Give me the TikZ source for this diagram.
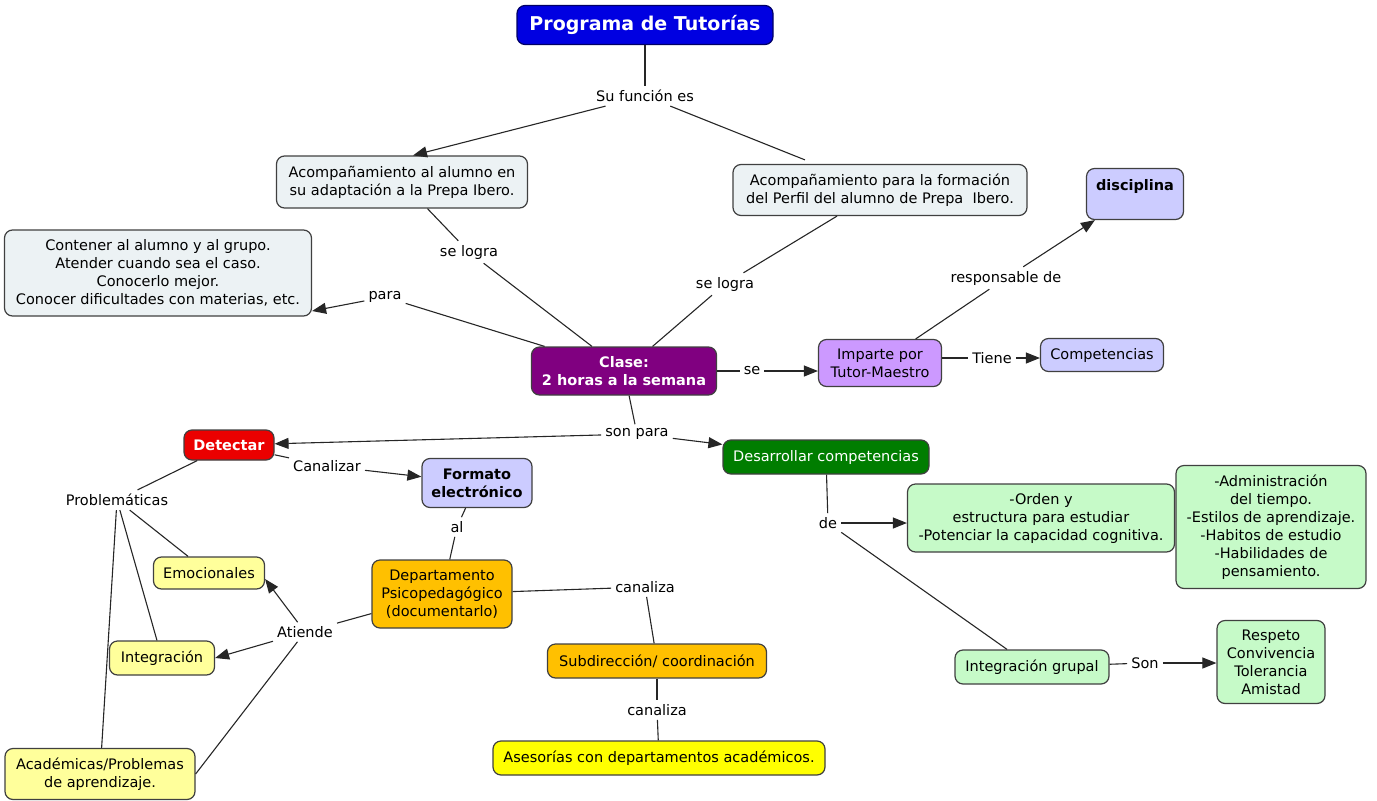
\documentclass[tikz,border=0pt]{standalone}
\usepackage{fontspec}
\setmainfont{DejaVu Sans}
\usetikzlibrary{arrows.meta}

\definecolor{titleblue}{RGB}{0,0,225}
\definecolor{boxgray}{RGB}{236,242,244}
\definecolor{clasepurple}{RGB}{128,0,128}
\definecolor{lightpurple}{RGB}{204,153,255}
\definecolor{lavender}{RGB}{204,204,255}
\definecolor{detred}{RGB}{235,0,0}
\definecolor{darkgreen}{RGB}{0,125,0}
\definecolor{mintgreen}{RGB}{198,250,200}
\definecolor{deporange}{RGB}{255,192,0}
\definecolor{brightyellow}{RGB}{255,255,0}
\definecolor{paleyellow}{RGB}{255,255,155}

\tikzset{
  concept/.style={draw=black!75, line width=1.2pt, rounded corners=8pt,
    align=center, inner sep=2pt, font=\fontsize{14.5}{18}\selectfont},
  linkword/.style={inner sep=4pt, font=\fontsize{14.5}{18}\selectfont},
  conn/.style={line width=1.1pt, draw=black!85},
  arr/.style={conn, -{Triangle[length=14pt,width=11pt]}},
}

\begin{document}
\begin{tikzpicture}[x=1pt,y=-1pt]
    \useasboundingbox (0,0) rectangle (1377,801);

    % concepts
    \node[concept, fill=titleblue, draw=blue!40!black, text=white,
      minimum width=256, minimum height=39,
      font=\fontsize{19}{22}\selectfont\bfseries] (title) at (645,25) {Programa de Tutorías};
    \node[concept, fill=boxgray, minimum width=251, minimum height=52] (acompA) at (402,182)
      {Acompañamiento al alumno en\\su adaptación a la Prepa Ibero.};
    \node[concept, fill=boxgray, minimum width=294, minimum height=51] (acompB) at (880,190)
      {Acompañamiento para la formación\\del Perfil del alumno de Prepa~ Ibero.};
    \node[concept, fill=boxgray, minimum width=307, minimum height=86] (contener) at (158,273)
      {Contener al alumno y al grupo.\\Atender cuando sea el caso.\\Conocerlo mejor.\\Conocer dificultades con materias, etc.};
    \node[concept, fill=clasepurple, text=white, minimum width=185, minimum height=48,
      font=\fontsize{14.5}{18}\selectfont\bfseries] (clase) at (624,371) {Clase:\\2 horas a la semana};
    \node[concept, fill=lightpurple, minimum width=123, minimum height=47] (imparte) at (880,363)
      {Imparte por\\Tutor-Maestro};
    \node[concept, fill=lavender, minimum width=123, minimum height=33] (compet) at (1102,355) {Competencias};
    \node[concept, fill=lavender, minimum width=97, minimum height=51,
      font=\fontsize{14.5}{18}\selectfont\bfseries] (discip) at (1135,194) {disciplina\\~};
    \node[concept, fill=detred, text=white, minimum width=90, minimum height=30,
      font=\fontsize{14.5}{18}\selectfont\bfseries] (detectar) at (229,445) {Detectar};
    \node[concept, fill=lavender, minimum width=110, minimum height=49,
      font=\fontsize{14.5}{18}\selectfont\bfseries] (formato) at (477,483) {Formato\\electrónico};
    \node[concept, fill=deporange, minimum width=140, minimum height=68] (depto) at (442,594)
      {Departamento\\Psicopedagógico\\(documentarlo)};
    \node[concept, fill=deporange, minimum width=219, minimum height=34] (subdir) at (657,661)
      {Subdirección/ coordinación};
    \node[concept, fill=brightyellow, minimum width=332, minimum height=34] (asesor) at (659,758)
      {Asesorías con departamentos académicos.};
    \node[concept, fill=paleyellow, minimum width=111, minimum height=32] (emoc) at (209,573) {Emocionales};
    \node[concept, fill=paleyellow, minimum width=105, minimum height=34] (integ) at (162,658) {Integración};
    \node[concept, fill=paleyellow, minimum width=190, minimum height=51] (academ) at (100,774)
      {Académicas/Problemas\\de aprendizaje.};
    \node[concept, fill=darkgreen, text=white, minimum width=206, minimum height=34] (desarr) at (826,457)
      {Desarrollar competencias};
    \node[concept, fill=mintgreen, minimum width=267, minimum height=68] (orden) at (1041,518)
      {-Orden y\\estructura para estudiar\\-Potenciar la capacidad cognitiva.};
    \node[concept, fill=mintgreen, minimum width=190, minimum height=123] (admin) at (1271,527)
      {-Administración\\del tiempo.\\-Estilos de aprendizaje.\\-Habitos de estudio\\-Habilidades de\\pensamiento.};
    \node[concept, fill=mintgreen, minimum width=154, minimum height=34] (integg) at (1032,667)
      {Integración grupal};
    \node[concept, fill=mintgreen, minimum width=108, minimum height=83] (respeto) at (1271,662)
      {Respeto\\Convivencia\\Tolerancia\\Amistad};

    % linking words
    \node[linkword] (sufun) at (645,96) {Su función es};
    \node[linkword] (selogA) at (469,252) {se logra};
    \node[linkword] (selogB) at (725,284) {se logra};
    \node[linkword] (para) at (385,297) {para};
    \node[linkword] (se) at (752,371) {se};
    \node[linkword] (tiene) at (992,358) {Tiene};
    \node[linkword] (resp) at (1006,278) {responsable de};
    \node[linkword] (sonpara) at (637,434) {son para};
    \node[linkword] (canalizar) at (327,466) {Canalizar};
    \node[linkword] (al) at (457,527) {al};
    \node[linkword] (canalA) at (645,587) {canaliza};
    \node[linkword] (canalB) at (657,710) {canaliza};
    \node[linkword] (problem) at (117,500) {Problemáticas};
    \node[linkword] (atiende) at (305,632) {Atiende};
    \node[linkword] (de) at (828,523) {de};
    \node[linkword] (son) at (1145,663) {Son};

    % connectors
    \draw[conn] (title) -- (sufun);
    \draw[arr] (sufun) -- ([xshift=11pt]acompA.north);
    \draw[conn] (sufun) -- ([xshift=-75pt,yshift=4pt]acompB.north);
    \draw[conn] (acompA) -- (selogA);
    \draw[conn] (selogA) -- (clase);
    \draw[conn] (acompB) -- (selogB);
    \draw[conn] (selogB) -- (clase);
    \draw[conn] (clase) -- (para);
    \draw[arr] (para) -- ([yshift=-38pt]contener.east);
    \draw[conn] (clase.east) -- (se);
    \draw[arr] (se) -- (imparte.west |- se);
    \draw[conn] (imparte.east |- tiene) -- (tiene);
    \draw[arr] (tiene) -- (compet.west |- tiene);
    \draw[conn] (imparte) -- (resp);
    \draw[arr] (resp) -- (discip);
    \draw[conn] (clase) -- (sonpara);
    \draw[arr] (sonpara) -- (detectar);
    \draw[arr] (sonpara) -- (desarr);
    \draw[conn] (detectar) -- (canalizar);
    \draw[arr] (canalizar) -- (formato);
    \draw[conn] (formato) -- (al);
    \draw[conn] (al) -- (depto);
    \draw[conn] (depto) -- (canalA);
    \draw[conn] (canalA) -- (subdir);
    \draw[conn] (subdir) -- (canalB);
    \draw[conn] (canalB) -- (asesor);
    \draw[conn] (detectar) -- (problem);
    \draw[conn] (problem) -- (emoc);
    \draw[conn] (problem) -- (integ);
    \draw[conn] (problem) -- (academ);
    \draw[conn] (depto) -- (atiende);
    \draw[arr] (atiende) -- ([yshift=-6pt]emoc.east);
    \draw[arr] (atiende) -- (integ.east);
    \draw[conn] (atiende) -- (academ.east);
    \draw[conn] (desarr) -- (de);
    \draw[arr] (de) -- (orden.west |- de);
    \draw[conn] (de) -- (integg);
    \draw[conn] (integg) -- (son);
    \draw[arr] (son) -- (respeto.west |- son);
\end{tikzpicture}
\end{document}
